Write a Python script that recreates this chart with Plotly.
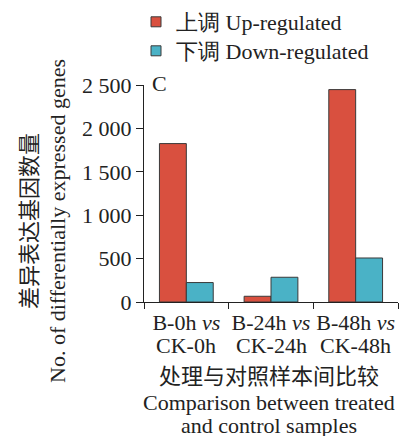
import plotly.graph_objects as go

categories = ["B-0h <i>vs</i>", "B-24h <i>vs</i>", "B-48h <i>vs</i>"]
category_line2 = ["CK-0h", "CK-24h", "CK-48h"]
up_values = [1825, 66, 2447]
down_values = [224, 285, 507]
series_names = ["上调 Up-regulated", "下调 Down-regulated"]
y_tickvals = [0, 500, 1000, 1500, 2000, 2500]
y_ticktext = ["0", "500", "1 000", "1 500", "2 000", "2 500"]

RED = "#d9503f"
CYAN = "#4ab2c6"
EDGE = "#3a3a3a"
SERIF = "Liberation Serif"
CJK = "Noto Sans CJK SC"
TXT = "#222"

fig = go.Figure()
fig.add_trace(go.Bar(x=categories, y=up_values, name=series_names[0],
                     marker=dict(color=RED, line=dict(color=EDGE, width=1)), showlegend=False))
fig.add_trace(go.Bar(x=categories, y=down_values, name=series_names[1],
                     marker=dict(color=CYAN, line=dict(color=EDGE, width=1)), showlegend=False))
# legend proxies (one legend per row for exact placement)
for name, col, lg in zip(series_names, [RED, CYAN], ["legend", "legend2"]):
    fig.add_trace(go.Scatter(x=[None], y=[None], mode="markers", name=name, legend=lg,
                             marker=dict(symbol="square", size=10, color=col,
                                         line=dict(color=EDGE, width=1))))

W, H = 417, 436
L, R, T, B = 144, 19, 85, 134
pw, ph = W - L - R, H - T - B

def px(xp):
    return (xp - L) / pw

def py(yp):
    return (H - B - yp) / ph

legend_common = dict(xanchor="left", yanchor="middle",
                     font=dict(family=SERIF, size=22, color=TXT),
                     itemwidth=30, bgcolor="rgba(0,0,0,0)")

fig.update_layout(
    width=W, height=H,
    margin=dict(l=L, r=R, t=T, b=B, autoexpand=False),
    paper_bgcolor="white", plot_bgcolor="white",
    barmode="group", bargap=0.365, bargroupgap=0,
    font=dict(family=SERIF, size=22, color=TXT),
    legend=dict(x=px(136), y=py(22), **legend_common),
    legend2=dict(x=px(136), y=py(51), **legend_common),
    xaxis=dict(type="category", tickson="boundaries", showline=True, linecolor=TXT,
               linewidth=1.3, ticks="outside", ticklen=6, tickwidth=1.3, tickcolor=TXT,
               tickangle=0, showgrid=False, tickfont=dict(family=SERIF, size=22, color=TXT)),
    yaxis=dict(range=[0, 2500], showline=True, linecolor=TXT, linewidth=1.3,
               ticks="outside", ticklen=7, tickwidth=1.3, tickcolor=TXT,
               tickvals=y_tickvals, ticktext=y_ticktext, showgrid=False, zeroline=False,
               tickfont=dict(family=SERIF, size=22, color=TXT)),
)

for cat, line2 in zip(categories, category_line2):
    fig.add_annotation(text=line2, xref="x", yref="paper", x=cat, y=py(345),
                       xanchor="center", yanchor="middle", showarrow=False,
                       font=dict(family=SERIF, size=22, color=TXT))

fig.add_annotation(text="C", xref="paper", yref="paper", x=px(150), y=py(83),
                   xanchor="left", yanchor="middle", showarrow=False,
                   font=dict(family=SERIF, size=22, color=TXT))
fig.add_annotation(text="差异表达基因数量", xref="paper", yref="paper", x=px(27), y=py(221),
                   xanchor="center", yanchor="middle", textangle=-90, showarrow=False,
                   font=dict(family=CJK, size=22, color=TXT))
fig.add_annotation(text="No. of differentially expressed genes", xref="paper", yref="paper",
                   x=px(57), y=py(221), xanchor="center", yanchor="middle", textangle=-90,
                   showarrow=False, font=dict(family=SERIF, size=22, color=TXT))
fig.add_annotation(text="处理与对照样本间比较", xref="paper", yref="paper", x=px(269), y=py(374),
                   xanchor="center", yanchor="middle", showarrow=False,
                   font=dict(family=CJK, size=22, color=TXT))
fig.add_annotation(text="Comparison between treated", xref="paper",
                   yref="paper", x=px(269), y=py(402), xanchor="center", yanchor="middle",
                   showarrow=False, font=dict(family=SERIF, size=22, color=TXT))
fig.add_annotation(text="and control samples", xref="paper",
                   yref="paper", x=px(269), y=py(425), xanchor="center", yanchor="middle",
                   showarrow=False, font=dict(family=SERIF, size=22, color=TXT))

fig.write_html("out.html")
